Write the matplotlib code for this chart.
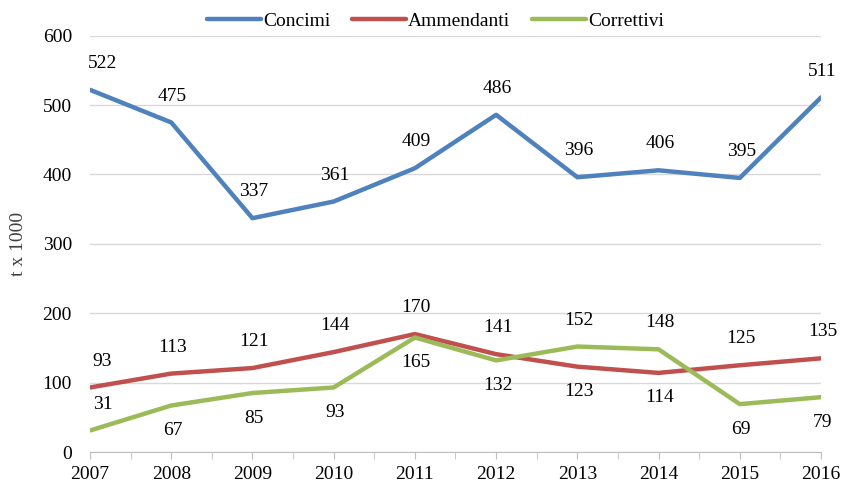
import matplotlib
matplotlib.use("Agg")
import matplotlib.pyplot as plt
import numpy as np

years = [2007, 2008, 2009, 2010, 2011, 2012, 2013, 2014, 2015, 2016]
concimi = [522, 475, 337, 361, 409, 486, 396, 406, 395, 511]
ammendanti = [93, 113, 121, 144, 170, 141, 123, 114, 125, 135]
correttivi = [31, 67, 85, 93, 165, 132, 152, 148, 69, 79]
# label placement: +1 above, -1 below
pos_conc = [1] * 10
pos_amm = [1, 1, 1, 1, 1, 1, -1, -1, 1, 1]
pos_corr = [1, -1, -1, -1, -1, -1, 1, 1, -1, -1]

plt.rcParams['font.family'] = ['Liberation Serif', 'DejaVu Serif']

fig = plt.figure(figsize=(8.45, 4.86), dpi=100)
ax = fig.add_axes([90/845, 1-452/486, (821-90)/845, (452-35.7)/486])

series = [
    ("Concimi", concimi, pos_conc, "#4F81BD"),
    ("Ammendanti", ammendanti, pos_amm, "#C0504D"),
    ("Correttivi", correttivi, pos_corr, "#9BBB59"),
]
for name, vals, pos, col in series:
    ax.plot(years, vals, color=col, lw=3.2, label=name, solid_capstyle='round', zorder=3)
    for i, (x, v, p) in enumerate(zip(years, vals, pos)):
        dy = 19 if p > 0 else -18
        dx = 9 if i == 0 else 1
        ax.annotate(str(v), (x, v), xytext=(dx, dy), textcoords='offset points',
                    ha='center', va='center', fontsize=14, color='#000000', zorder=4)

ax.set_xlim(2007, 2016)
ax.set_ylim(0, 600)
ax.set_yticks(np.arange(0, 601, 100))
ax.set_xticks(years)
ax.set_xticks(np.arange(2007.5, 2016, 1), minor=True)
ax.grid(axis='y', color='#D9D9D9', lw=1, zorder=0)
for s in ['top', 'right', 'left']:
    ax.spines[s].set_visible(False)
ax.spines['bottom'].set_color('#BFBFBF')
ax.tick_params(axis='y', length=0, labelsize=14, pad=13)
ax.tick_params(axis='x', which='both', length=5, color='#BFBFBF', labelsize=14, pad=5)
ax.set_ylabel("t x 1000", fontsize=14, color='#404040')
ax.yaxis.set_label_coords(-63/731, 0.5)

leg = fig.legend(loc='upper center', bbox_to_anchor=(0.515, 1.01), ncol=3, frameon=False,
                 fontsize=14, handlelength=2.8, columnspacing=1.1, handletextpad=0.1)

fig.savefig("out.png", dpi=100)
